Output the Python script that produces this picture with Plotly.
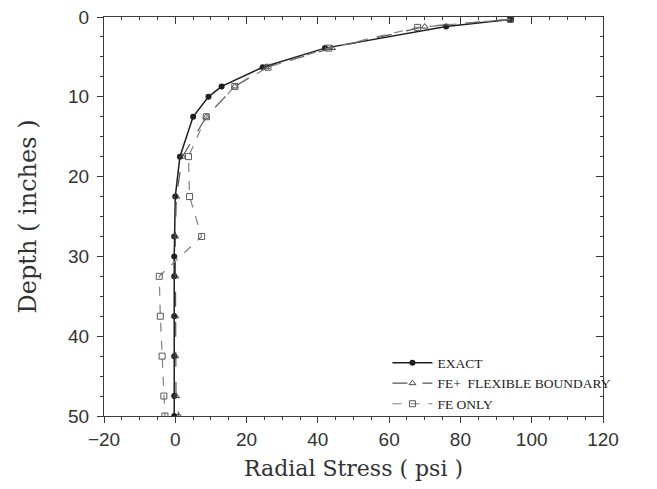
import plotly.graph_objects as go

# Radial stress vs depth
depth_exact = [0.3, 1.2, 3.9, 6.3, 8.7, 10.0, 12.5, 17.5, 22.5, 27.5, 30.0, 32.5, 37.5, 42.5, 47.5, 50.0]
stress_exact = [94, 76, 42, 24.5, 13, 9.3, 5, 1.3, 0, -0.3, -0.3, -0.3, -0.3, -0.3, -0.3, -0.3]

depth_flex = [0.3, 1.2, 3.9, 6.3, 8.7, 12.5, 17.5, 22.5, 27.5, 32.5, 37.5, 42.5, 47.5, 50.0]
stress_flex = [94, 70, 44, 25.5, 16.7, 8.7, 2.0, 0.3, 0.0, 0.0, 0.0, 0.0, 0.2, 1.0]

depth_fe = [0.3, 1.3, 3.9, 6.3, 8.7, 12.5, 17.5, 22.5, 27.5, 32.5, 37.5, 42.5, 47.5, 50.0]
stress_fe = [94, 68, 43, 26, 16.7, 8.7, 3.7, 4.0, 7.4, -4.5, -4.2, -3.7, -3.2, -2.9]

x_ticks = [-20, 0, 20, 40, 60, 80, 100, 120]
y_ticks = [0, 10, 20, 30, 40, 50]
x_range = [-20, 120]
y_range = [50, 0]

TITLE_FONT = 'DejaVu Serif'
TICK_FONT = 'Liberation Sans'
AX = '#3a3a3a'

fig = go.Figure()

fig.add_trace(go.Scatter(
    x=stress_exact, y=depth_exact, mode='lines+markers', name='EXACT',
    line=dict(color='#1e1e1e', width=1.5),
    marker=dict(symbol='circle', size=6, color='#1e1e1e')
))
fig.add_trace(go.Scatter(
    x=stress_flex, y=depth_flex, mode='lines+markers', name='FE+  FLEXIBLE BOUNDARY',
    line=dict(color='#555555', width=1.2, dash='longdash'),
    marker=dict(symbol='triangle-up-open', size=6, color='#444444')
))
# drawn on the top/right axis pair (same ranges) so those axes get rendered
fig.add_trace(go.Scatter(
    x=stress_fe, y=depth_fe, mode='lines+markers', name='FE ONLY',
    xaxis='x2', yaxis='y2',
    line=dict(color='#808080', width=1.2, dash='dash'),
    marker=dict(symbol='square-open', size=6, color='#5a5a5a')
))

common = dict(showgrid=False, zeroline=False, automargin=False)

fig.update_layout(
    width=657, height=489,
    margin=dict(l=96, r=62, t=9, b=81),
    paper_bgcolor='white', plot_bgcolor='white',
    font=dict(family=TITLE_FONT, color='#333333'),
    xaxis=dict(
        range=x_range, tickvals=x_ticks, mirror=True,
        showline=True, linecolor=AX, linewidth=1.2,
        ticks='outside', ticklen=6, tickcolor=AX,
        minor=dict(dtick=5, ticks='outside', ticklen=3, tickcolor=AX),
        tickfont=dict(family=TICK_FONT, size=19, color='#333333'),
        ticklabeloverflow='allow',
        title=dict(text='Radial Stress ( psi )', font=dict(family=TITLE_FONT, size=22), standoff=11),
        **common
    ),
    yaxis=dict(
        range=y_range, tickvals=y_ticks, mirror=True,
        showline=True, linecolor=AX, linewidth=1.2,
        ticks='outside', ticklen=6, tickcolor=AX,
        minor=dict(dtick=2.5, ticks='outside', ticklen=3, tickcolor=AX),
        tickfont=dict(family=TICK_FONT, size=19, color='#333333'),
        ticklabeloverflow='allow', ticklabelstandoff=4,
        title=dict(text='Depth ( inches )', font=dict(family=TITLE_FONT, size=24), standoff=24),
        **common
    ),
    # top and right axes: ticks pointing inward, no labels
    xaxis2=dict(
        overlaying='x', side='top', range=x_range, tickvals=x_ticks,
        showline=False, ticks='inside', ticklen=7, tickcolor=AX, showticklabels=False,
        minor=dict(dtick=5, ticks='inside', ticklen=3, tickcolor=AX),
        **common
    ),
    yaxis2=dict(
        overlaying='y', side='right', range=y_range, tickvals=y_ticks,
        showline=False, ticks='inside', ticklen=7, tickcolor=AX, showticklabels=False,
        minor=dict(dtick=2.5, ticks='inside', ticklen=3, tickcolor=AX),
        **common
    ),
    legend=dict(
        x=0.568, y=0.172, xanchor='left', yanchor='top',
        bgcolor='rgba(0,0,0,0)', font=dict(family='Liberation Serif', size=13.5, color='#222222'),
        itemwidth=40, tracegroupgap=0
    ),
    showlegend=True
)

fig.write_html("out.html")
